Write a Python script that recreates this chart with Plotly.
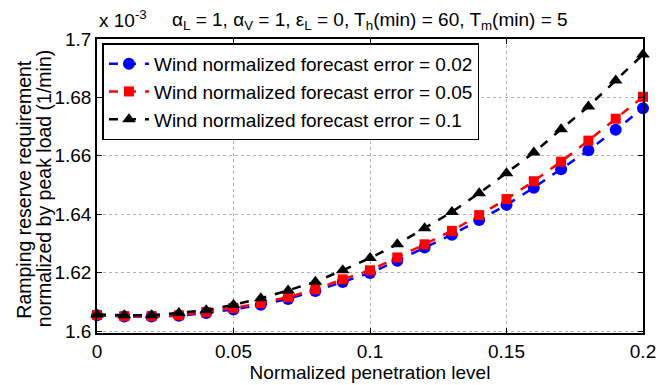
import plotly.graph_objects as go

penetration = [0.00, 0.01, 0.02, 0.03, 0.04, 0.05, 0.06, 0.07, 0.08, 0.09, 0.10,
               0.11, 0.12, 0.13, 0.14, 0.15, 0.16, 0.17, 0.18, 0.19, 0.20]
err_002 = [1.6054, 1.6050, 1.6050, 1.6052, 1.6062, 1.6074, 1.6090, 1.6110, 1.6137, 1.6168, 1.6199,
           1.6241, 1.6286, 1.6330, 1.6380, 1.6432, 1.6491, 1.6554, 1.6619, 1.6689, 1.6763]
err_005 = [1.6055, 1.6051, 1.6051, 1.6054, 1.6065, 1.6079, 1.6096, 1.6116, 1.6143, 1.6177, 1.6208,
           1.6252, 1.6297, 1.6343, 1.6397, 1.6452, 1.6513, 1.6580, 1.6652, 1.6727, 1.6802]
err_01 = [1.6057, 1.6054, 1.6054, 1.6062, 1.6071, 1.6090, 1.6112, 1.6139, 1.6169, 1.6208, 1.6250,
          1.6297, 1.6352, 1.6408, 1.6472, 1.6540, 1.6611, 1.6691, 1.6769, 1.6858, 1.6947]
series_names = ["Wind normalized forecast error = 0.02",
                "Wind normalized forecast error = 0.05",
                "Wind normalized forecast error = 0.1"]
series_colors = ["#0000FF", "#FF0000", "#000000"]
series_symbols = ["circle", "square", "triangle-up"]
x_ticks = [0, 0.05, 0.1, 0.15, 0.2]
x_ticktext = ["0", "0.05", "0.1", "0.15", "0.2"]
y_ticks = [1.6, 1.62, 1.64, 1.66, 1.68, 1.7]
y_ticktext = ["1.6", "1.62", "1.64", "1.66", "1.68", "1.7"]
y_title_lines = ["Ramping reserve requirement", "normalized by peak load (1/min)"]

FONT = "Liberation Sans, Arial, Helvetica, sans-serif"
FS = 19
L, R, T, B = 97, 10, 39, 44
W, H = 666, 385
PW = W - L - R

fig = go.Figure()
for ys, name, col, sym in zip([err_002, err_005, err_01], series_names, series_colors, series_symbols):
    fig.add_trace(go.Scatter(
        x=penetration, y=ys, mode="lines+markers", name=name,
        line=dict(color=col, width=2.5, dash="dash"),
        marker=dict(color=col, symbol=sym, size=12 if sym != "square" else 10, line=dict(width=0)),
        cliponaxis=False,
    ))

axis_common = dict(
    showline=True, linecolor="black", linewidth=1.5, mirror="ticks",
    ticks="inside", ticklen=5, tickcolor="black", tickwidth=1,
    showgrid=True, gridcolor="#b0b0b0", griddash="dot", gridwidth=1,
    zeroline=False, tickfont=dict(family=FONT, size=FS, color="black"),
    ticklabeloverflow="allow",
)

fig.update_xaxes(range=[0, 0.2], tickvals=x_ticks, ticktext=x_ticktext,
                 title=dict(text="Normalized penetration level", font=dict(family=FONT, size=FS, color="black"), standoff=0),
                 **axis_common)
fig.update_yaxes(range=[1.59933, 1.7], tickvals=y_ticks, ticktext=y_ticktext, **axis_common)

annotations = [
    dict(text="α<sub>L</sub> = 1, α<sub>V</sub> = 1, ε<sub>L</sub> = 0, T<sub>h</sub>(min) = 60, T<sub>m</sub>(min) = 5",
         xref="paper", yref="paper", x=0.5, y=1.0, xanchor="center", yanchor="bottom", yshift=4,
         showarrow=False, font=dict(family=FONT, size=FS, color="black")),
    dict(text="x 10<sup>-3</sup>", xref="paper", yref="paper", x=0.0, y=1.0,
         xanchor="left", yanchor="bottom", yshift=6, showarrow=False,
         font=dict(family=FONT, size=FS, color="black")),
]
for text, px in zip(y_title_lines, [22, 43]):
    annotations.append(dict(text=text, xref="paper", yref="paper", x=(px - L) / PW, y=0.49,
                            xanchor="center", yanchor="middle", textangle=-90, showarrow=False,
                            font=dict(family=FONT, size=19.5, color="black")))

fig.update_layout(
    width=W, height=H,
    margin=dict(l=L, r=R, t=T, b=B),
    paper_bgcolor="white", plot_bgcolor="white",
    font=dict(family=FONT, size=FS, color="black"),
    showlegend=True,
    legend=dict(x=0.01, y=0.985, xanchor="left", yanchor="top",
                bgcolor="white", bordercolor="black", borderwidth=1.5,
                font=dict(family=FONT, size=FS, color="black"),
                tracegroupgap=0, itemwidth=40),
    annotations=annotations,
)

fig.write_html("out.html")
